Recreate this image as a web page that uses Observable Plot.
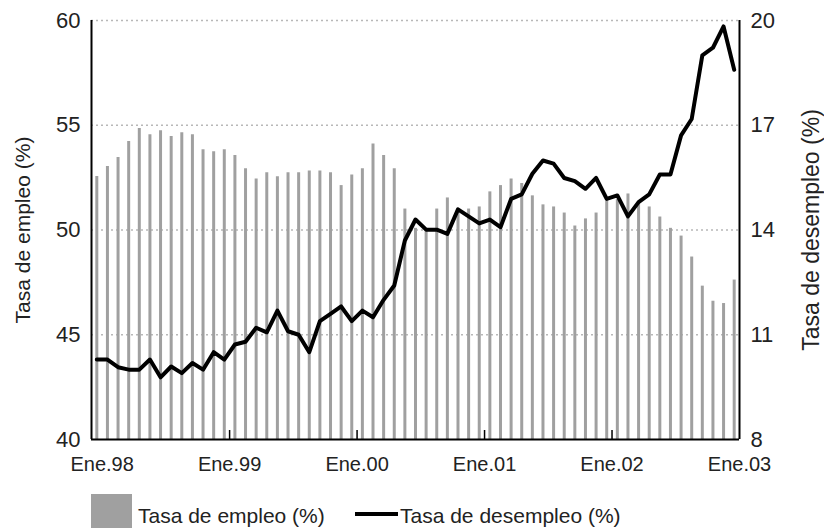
<!DOCTYPE html>
<html><head><meta charset="utf-8">
<script src="https://cdn.jsdelivr.net/npm/d3@7"></script>
<script src="https://cdn.jsdelivr.net/npm/@observablehq/plot@0.6"></script>
<style>
body{margin:0;background:#fff;font-family:"Liberation Sans",Arial,sans-serif;color:#222}
#wrap{position:relative;width:824px;height:529px;overflow:hidden}
.leg{position:absolute;font-size:21px;line-height:1;white-space:nowrap;color:#222}
</style></head><body><div id="wrap"><div id="chart"></div>
<div class="leg" style="left:91px;top:494px;width:41px;height:34px;background:#a0a0a0"></div>
<div class="leg" style="left:138px;top:505px">Tasa de empleo (%)</div>
<div class="leg" style="left:355px;top:512px;width:43px;height:4px;background:#000"></div>
<div class="leg" style="left:400px;top:505px">Tasa de desempleo (%)</div>
</div>
<script>
const empleo = [52.55,53.03,53.46,54.23,54.85,54.55,54.74,54.46,54.64,54.55,53.83,53.73,53.83,53.56,52.92,
  52.44,52.73,52.54,52.73,52.73,52.82,52.82,52.73,52.12,52.63,52.92,54.11,53.56,52.92,51.0,
  50.08,49.98,51.0,51.53,51.0,51.0,51.1,51.82,52.12,52.44,52.22,51.63,51.2,51.1,50.81,
  50.19,50.53,50.81,51.4,51.45,51.72,51.34,51.1,50.62,50.08,49.71,48.71,47.32,46.6,46.49,47.61];
const desempleo = [10.29,10.29,10.07,10.0,10.0,10.29,9.78,10.09,9.9,10.19,10.0,10.5,10.29,10.72,10.8,
  11.2,11.07,11.69,11.1,11.0,10.5,11.39,11.6,11.81,11.39,11.69,11.5,12.0,12.41,13.7,
  14.3,14.01,14.01,13.89,14.59,14.39,14.19,14.3,14.08,14.89,15.02,15.61,15.99,15.9,15.49,
  15.4,15.18,15.49,14.89,14.99,14.39,14.8,15.02,15.59,15.59,16.71,17.18,19.0,19.22,19.83,18.59];
const tickLabels = ["Ene.98","Ene.99","Ene.00","Ene.01","Ene.02","Ene.03"];
const leftTicks = [40,45,50,55,60];
const rightTicks = [8,11,14,17,20];

const data = empleo.map((e,i)=>({i, emp:e, des:desempleo[i]}));
const lMin = leftTicks[0], lMax = leftTicks[leftTicks.length-1];
const rMin = rightTicks[0], rMax = rightTicks[rightTicks.length-1];
const toLeft = u => lMin + (u - rMin) * (lMax - lMin) / (rMax - rMin);
const n = data.length;
const tickPos = tickLabels.map((_,k)=>k*12+0.5);
const font = '"Liberation Sans",Arial,sans-serif';

const chart = Plot.plot({
  width:824, height:488,
  marginLeft:91, marginRight:85, marginTop:20, marginBottom:49,
  style:{fontFamily:font, color:"#222", background:"white", overflow:"visible"},
  x:{domain:[-0.5, n-0.5]},
  y:{domain:[lMin,lMax]},
  marks:[
    Plot.ruleY(leftTicks.slice(1), {stroke:"#b8b8b8", strokeWidth:1.3, strokeDasharray:"2,3"}),
    Plot.ruleX(data, {x:"i", y1:lMin, y2:"emp", stroke:"#a0a0a0", strokeWidth:3}),
    Plot.line(data, {x:"i", y:d=>toLeft(d.des), stroke:"#000", strokeWidth:4, strokeLinejoin:"round"}),
    Plot.ruleX([-0.5, n-0.5], {stroke:"#000", strokeWidth:2}),
    Plot.ruleY([lMin], {stroke:"#000", strokeWidth:2}),
    Plot.axisY(leftTicks, {anchor:"left", tickSize:0, tickPadding:11, fontSize:22, label:null}),
    Plot.axisY(leftTicks, {anchor:"right", tickSize:0, tickPadding:11, fontSize:22, label:null,
      tickFormat:v=>rightTicks[leftTicks.indexOf(v)]}),
    Plot.axisX(tickPos, {anchor:"bottom", tickSize:0, tickPadding:17, fontSize:20, label:null,
      tickFormat:d=>tickLabels[Math.round((d-0.5)/12)]}),
    Plot.axisX(tickPos.slice(1,-1), {anchor:"bottom", tickSize:-9, tickFormat:()=>"", label:null, stroke:"#000", strokeWidth:1.5}),
    Plot.text(["Tasa de empleo (%)"], {frameAnchor:"left", textAnchor:"middle", dx:-68, rotate:-90, fontSize:21, fill:"#222"}),
    Plot.text(["Tasa de desempleo (%)"], {frameAnchor:"right", textAnchor:"middle", dx:72, rotate:-90, fontSize:23, fill:"#222"})
  ]
});
document.getElementById("chart").appendChild(chart);
</script>
</body></html>
